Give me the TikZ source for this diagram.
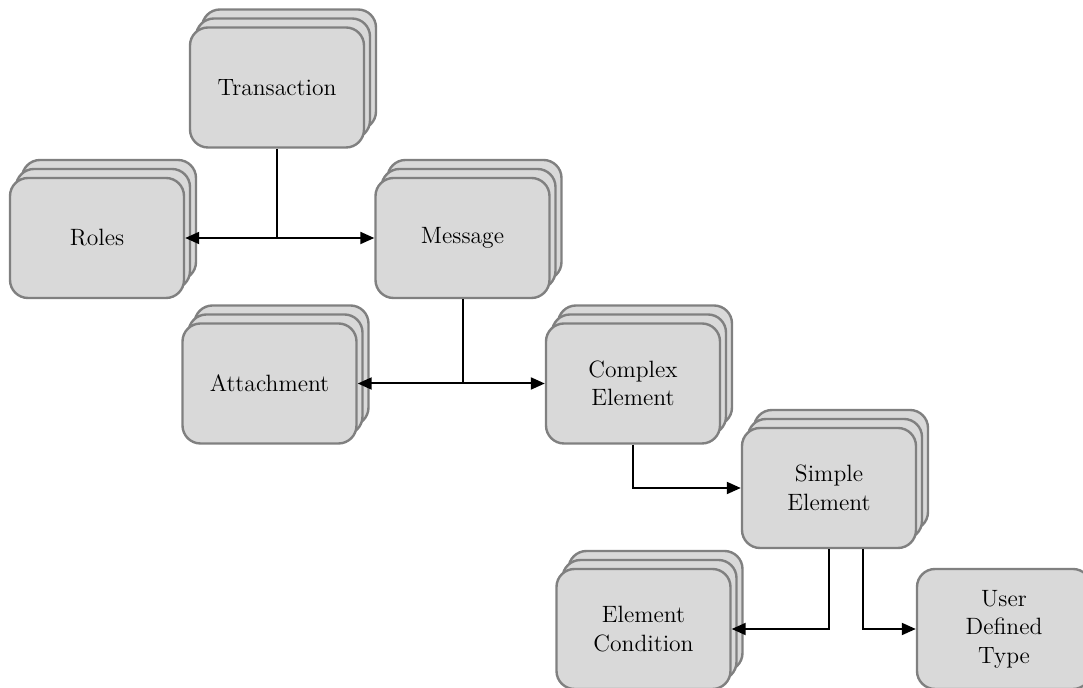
\documentclass[tikz,border=0pt]{standalone}
\usepackage{tikz}
\usetikzlibrary{%
  arrows.meta,
  positioning,
  shadows
}
\definecolor{boxfill}{HTML}{D9D9D9}
\definecolor{boxline}{HTML}{808080}
\tikzset{
  card/.style={
    draw=boxline, fill=boxfill, line width=1.2pt,
    rounded corners=9pt,
    minimum width=87pt, minimum height=60pt,
    align=center, text=black,
    font=\fontsize{11.8}{14.2}\selectfont,
  },
  cardstack/.style={
    card,
    general shadow={shadow xshift=6pt, shadow yshift=9pt,
      fill=boxfill, draw=boxline, line width=1.2pt, rounded corners=9pt},
    general shadow={shadow xshift=3pt, shadow yshift=4.5pt,
      fill=boxfill, draw=boxline, line width=1.2pt, rounded corners=9pt},
  },
  link/.style={line width=1pt, -{Triangle[length=7pt, width=6pt]}},
  biglink/.style={line width=1pt,
    {Triangle[length=7pt, width=6pt]}-{Triangle[length=7pt, width=6pt]}},
}

\begin{document}
\begin{tikzpicture}[x=0.5pt, y=-0.5pt]
    \useasboundingbox (0,0) rectangle (1083,688) ;

    \node [cardstack] (trans)  at ( 277.0,  87.5) {Transaction} ;
    \node [cardstack] (roles)  at (  97.0, 238.0) {Roles} ;
    \node [cardstack] (msg)    at ( 462.5, 238.0) {Message} ;
    \node [cardstack] (attach) at ( 269.5, 383.5) {Attachment} ;
    \node [cardstack] (cplx)   at ( 633.0, 383.5) {Complex\\Element} ;
    \node [cardstack] (simple) at ( 829.0, 488.0) {Simple\\Element} ;
    \node [cardstack] (cond)   at ( 643.5, 629.0) {Element\\Condition} ;
    \node [card]      (udt)    at (1004.0, 629.0) {User\\Defined\\Type} ;

    \begin{scope}[line width=1pt]
      \draw (trans.south) -- (trans.south |- roles.east) ;
      \draw [biglink] (roles.east) -- (msg.west) ;

      \draw (msg.south) -- (msg.south |- attach.east) ;
      \draw [biglink] (attach.east) -- (cplx.west) ;

      \draw [link] (cplx.south) |- (simple.west) ;
      \draw [link] (simple.south) |- (cond.east) ;
      \draw [link] ([xshift=17pt]simple.south) |- (udt.west) ;
    \end{scope}
\end{tikzpicture}
\end{document}
